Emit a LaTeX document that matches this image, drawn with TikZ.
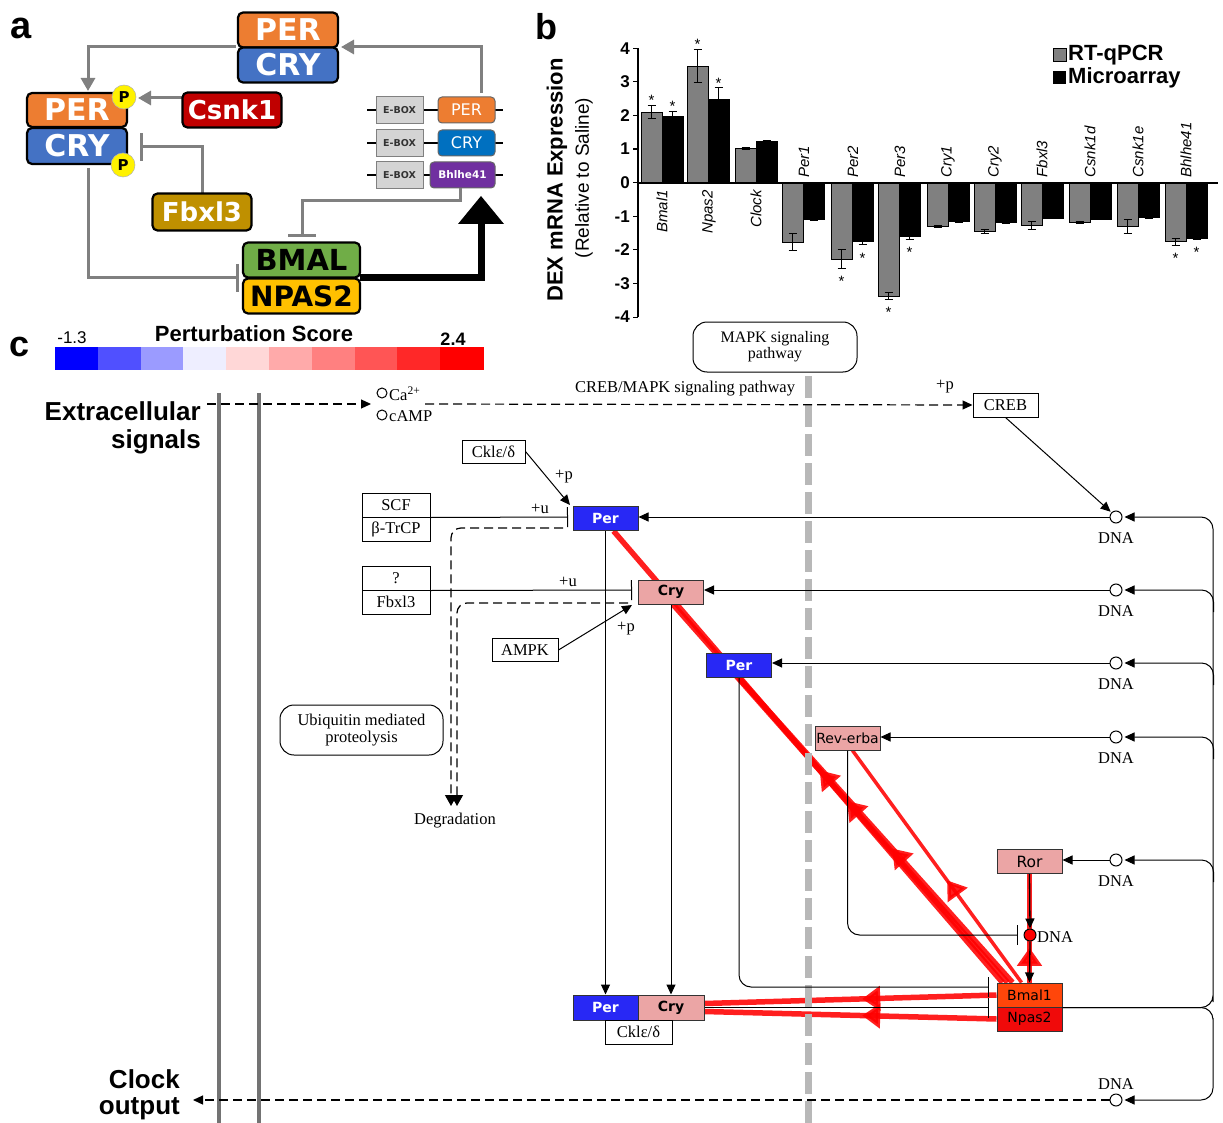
\documentclass[tikz,border=0pt]{standalone}
\usepackage{fontspec}
\setmainfont{Liberation Serif}
\newfontfamily\dvs{DejaVu Sans}
\newfontfamily\ars{Liberation Sans}
\usetikzlibrary{arrows.meta,decorations.markings,calc}
\newcommand\fsz[1]{\fontsize{#1}{#1}\selectfont}
\pgfdeclarelayer{bg}
\pgfsetlayers{bg,main}
\definecolor{perO}{RGB}{237,125,49}
\definecolor{cryB}{RGB}{68,114,196}
\definecolor{csnk}{RGB}{192,0,0}
\definecolor{fbx}{RGB}{191,144,0}
\definecolor{bmalG}{RGB}{112,173,71}
\definecolor{npasY}{RGB}{255,192,0}
\definecolor{cryS}{RGB}{0,112,192}
\definecolor{purp}{RGB}{112,48,160}
\definecolor{barg}{RGB}{128,128,128}
\definecolor{kblue}{RGB}{40,40,245}
\definecolor{kpink}{RGB}{235,165,165}
\definecolor{kbmal}{RGB}{255,70,10}
\definecolor{knpas}{RGB}{240,10,10}
\definecolor{cb1}{RGB}{0,0,255}
\definecolor{cb2}{RGB}{80,80,255}
\definecolor{cb3}{RGB}{155,155,255}
\definecolor{cb4}{RGB}{238,238,255}
\definecolor{cb5}{RGB}{255,215,215}
\definecolor{cb6}{RGB}{255,170,170}
\definecolor{cb7}{RGB}{255,128,128}
\definecolor{cb8}{RGB}{255,85,85}
\definecolor{cb9}{RGB}{255,40,40}
\definecolor{cb10}{RGB}{255,0,0}
\begin{document}
\begin{tikzpicture}[x=1pt,y=-1pt,
  abox/.style={draw=black, line width=2.2pt, rounded corners=5pt, inner sep=0pt, text=white, font=\dvs\bfseries\fsz{30}, minimum width=100pt},
  ebox/.style={draw=black!50, fill=black!17, line width=1pt, minimum width=47pt, minimum height=27pt, inner sep=0pt, font=\dvs\bfseries\fsz{9.5}, text=black!80},
  sbox/.style={draw=black!60, line width=1pt, rounded corners=4pt, minimum height=26pt, inner sep=0pt, text=white, font=\dvs\fsz{16}},
  garr/.style={draw=black!50, line width=3pt, -{Triangle[length=13pt,width=14pt]}},
  gbar/.style={draw=black!50, line width=3pt, -{Bar[width=28pt]}},
  pcirc/.style={circle, fill=yellow, draw=black!30, line width=0.5pt, minimum size=24pt, inner sep=0pt, font=\dvs\bfseries\fsz{15}},
  kbox/.style={draw=black, line width=1pt, fill=white, inner sep=0pt, minimum height=24pt, font=\fsz{16.5}},
  kg/.style={draw=black!80, line width=1pt, inner sep=0pt, minimum height=24pt, minimum width=65pt, font=\dvs\fsz{14}},
  klbl/.style={font=\fsz{16.5}, inner sep=0pt},
  kline/.style={line width=1pt},
  karr/.style={line width=1pt, -{Triangle[length=10pt,width=9pt]}},
  kbar/.style={line width=1pt, -{Bar[width=20pt]}},
  kdash/.style={line width=1.2pt, dash pattern=on 9pt off 5pt},
  dna/.style={circle, draw=black, line width=1pt, minimum size=12pt, inner sep=0pt, fill=white},
  redl/.style={draw=red, line width=5.5pt, opacity=0.88},
  redarr/.style={postaction={decorate}, decoration={markings, mark=at position #1 with {\arrow[red]{Triangle[length=18pt,width=24pt]}}}},
  big/.style={font=\ars\bfseries\fsz{26}, inner sep=0pt}
]
\useasboundingbox (0,0) rectangle (1223,1123);

% ================= panel a =================
\node[font=\ars\bfseries\fsz{38}, inner sep=0pt] (la) at (21,28) {a};
\foreach \yy in {110,143,175} \draw[line width=1.5pt] (367,\yy) -- (503,\yy);
\node[ebox] (e1) at (399.5,110) {E-BOX};
\node[ebox] (e2) at (399.5,143) {E-BOX};
\node[ebox] (e3) at (399.5,175) {E-BOX};
\node[sbox, fill=perO, minimum width=57pt] (gPer) at (466.5,110) {PER};
\node[sbox, fill=cryS, minimum width=57pt] (gCry) at (466.5,143) {CRY};
\node[sbox, fill=purp, minimum width=65pt, font=\dvs\bfseries\fsz{10.5}] (gBh) at (462.5,175) {Bhlhe41};

\draw[garr] (236,47) -| (88,91);
\draw[garr] (481,93) |- (341,47);
\draw[garr] (182,98) -- (138,98);
\draw[gbar] (202,194) |- (140,147);
\draw[gbar] (88,168) |- (239,278);
\draw[gbar] (460,188) -- (460,201) -| (302,237);
\draw[line width=7pt, line join=miter] (360,278) -- (481,278) -- (481,223);
\fill (458,224) -- (504,224) -- (481,196) -- cycle;

\node[abox, fill=perO, minimum height=35pt] (perT) at (288,30) {PER};
\node[abox, fill=cryB, minimum height=35pt] (cryT) at (288,65) {CRY};
\node[abox, fill=perO, minimum height=34pt] (perL) at (77,110) {PER};
\node[abox, fill=cryB, minimum height=36pt] (cryL) at (77,146) {CRY};
\node[pcirc] (p1) at (124,97) {P};
\node[pcirc] (p2) at (123,165) {P};
\node[abox, fill=csnk, minimum width=99pt, minimum height=35pt, font=\dvs\bfseries\fsz{26}] (csnk) at (232,110) {Csnk1};
\node[abox, fill=fbx, minimum width=99pt, minimum height=37pt, font=\dvs\bfseries\fsz{26}] (fbxa) at (202,212) {Fbxl3};
\node[abox, fill=bmalG, minimum width=117pt, minimum height=35pt, text=black, font=\dvs\bfseries\fsz{29}] (bmalA) at (301.5,260) {BMAL};
\node[abox, fill=npasY, minimum width=117pt, minimum height=35pt, text=black, font=\dvs\bfseries\fsz{28}] (npasA) at (301.5,296) {NPAS2};

% ================= panel b =================
\node[font=\ars\bfseries\fsz{36}, inner sep=0pt] (lb) at (546,27) {b};
\node[rotate=90, font=\ars\bfseries\fsz{22}, inner sep=0pt] (yl1) at (557,180) {DEX mRNA Expression};
\node[rotate=90, font=\ars\fsz{19}, inner sep=0pt] (yl2) at (584,178) {(Relative to Saline)};
\begin{scope}[shift={(0,182.7)}, y=33.6pt]
  \foreach \xg/\vg/\eg/\sg/\vb/\eb/\sb in {641/2.1/.2/1/1.97/.15/1, 687/3.47/.5/1/2.47/.35/1, 735/1.02/.03/0/1.22/.03/0, 782/-1.77/.25/0/-1.1/.02/0, 831/-2.28/.28/1/-1.75/.1/1, 878/-3.38/.1/1/-1.6/.08/1, 927/-1.3/.03/0/-1.15/.02/0, 974/-1.45/.05/0/-1.18/.02/0, 1021/-1.28/.12/0/-1.05/.02/0, 1069/-1.18/.04/0/-1.08/.02/0, 1117/-1.3/.22/0/-1.03/.02/0, 1165/-1.76/.1/1/-1.65/.03/1}{
    \pgfmathsetmacro\xb{\xg+21}
    \pgfmathsetmacro\xe{\xg+42}
    \pgfmathsetmacro\cg{\xg+10.5}
    \pgfmathsetmacro\cb{\xg+31.5}
    \filldraw[fill=barg, draw=black, line width=0.8pt] (\xg,0) rectangle (\xb,\vg);
    \filldraw[fill=black, draw=black, line width=0.8pt] (\xb,0) rectangle (\xe,\vb);
    \draw[line width=0.9pt] (\cg,\vg-\eg) -- (\cg,\vg+\eg) (\cg-4,\vg-\eg) -- (\cg+4,\vg-\eg) (\cg-4,\vg+\eg) -- (\cg+4,\vg+\eg);
    \draw[line width=0.9pt] (\cb,\vb-\eb) -- (\cb,\vb+\eb) (\cb-4,\vb-\eb) -- (\cb+4,\vb-\eb) (\cb-4,\vb+\eb) -- (\cb+4,\vb+\eb);
    \pgfmathsetmacro\eeg{\vg>0 ? \vg+\eg : \vg-\eg}
    \pgfmathsetmacro\syg{\vg>0 ? 5 : -13}
    \pgfmathsetmacro\eeb{\vb>0 ? \vb+\eb : \vb-\eb}
    \pgfmathsetmacro\syb{\vb>0 ? 5 : -13}
    \ifnum\sg=1 \node[font=\ars\fsz{15}, inner sep=0pt, yshift=\syg pt] at (\cg,\eeg) {*};\fi
    \ifnum\sb=1 \node[font=\ars\fsz{15}, inner sep=0pt, yshift=\syb pt] at (\cb,\eeb) {*};\fi
  }
  \draw[line width=1.5pt] (638,-4) -- (638,4);
  \foreach \t in {-4,...,4}{
    \draw[line width=1.2pt] (633,\t) -- (638,\t);
    \node[anchor=east, font=\ars\bfseries\fsz{17}, inner sep=0pt] at (630,\t) {\t};
  }
  \draw[line width=2pt] (638,0) -- (1218,0);
  \foreach \x/\n in {662/Bmal1, 709/Npas2, 756/Clock}
    \node[rotate=90, anchor=east, font=\ars\itshape\fsz{15}, inner sep=0pt] at (\x,-0.22) {\n};
  \foreach \x/\n in {804/Per1, 853/Per2, 900/Per3, 948/Cry1, 995/Cry2, 1042/Fbxl3, 1090/Csnk1d, 1138/Csnk1e, 1186/Bhlhe41}
    \node[rotate=90, anchor=west, font=\ars\itshape\fsz{15}, inner sep=0pt] at (\x,0.15) {\n};
\end{scope}
\filldraw[fill=barg, draw=black, line width=1pt] (1053,49) rectangle (1066,62);
\fill (1053,71) rectangle (1066,84);
\node[anchor=west, font=\ars\bfseries\fsz{22}, inner sep=0pt] (lg1) at (1068,55) {RT-qPCR};
\node[anchor=west, font=\ars\bfseries\fsz{22}, inner sep=0pt] (lg2) at (1068,78) {Microarray};

% ================= panel c =================
\node[font=\ars\bfseries\fsz{36}, inner sep=0pt] (lc) at (20,347) {c};
\foreach \i/\c in {0/cb1,1/cb2,2/cb3,3/cb4,4/cb5,5/cb6,6/cb7,7/cb8,8/cb9,9/cb10}
  \fill[\c] (55+\i*42.8,347) rectangle (55+\i*42.8+43.3,370);
\node[font=\ars\fsz{17}, inner sep=0pt] (cmin) at (72,338) {-1.3};
\node[font=\ars\bfseries\fsz{22}, inner sep=0pt] (ctit) at (254,334) {Perturbation Score};
\node[font=\ars\bfseries\fsz{18}, inner sep=0pt] (cmax) at (453,339) {2.4};

\node[big, anchor=east] (ext1) at (201,411) {Extracellular};
\node[big, anchor=east] (ext2) at (201,442) {signals};
\node[big, anchor=east] (clk1) at (180,1079) {Clock};
\node[big, anchor=east] (clk2) at (180,1109) {output};

\draw[black!55, line width=4pt] (219,393) -- (219,1123);
\draw[black!55, line width=4pt] (259,393) -- (259,1123);
\draw[black!28, line width=7pt, dash pattern=on 22pt off 7pt] (808,376) -- (808,1123);

\node[draw, rounded corners=14pt, line width=1pt, minimum width=164pt, minimum height=50pt, align=center, font=\fsz{16}, inner sep=0pt] (mapk) at (775,347) {MAPK signaling\\pathway};
\node[draw, rounded corners=14pt, line width=1pt, minimum width=163pt, minimum height=50pt, align=center, font=\fsz{16.5}, inner sep=0pt] (ubq) at (361.5,730) {Ubiquitin mediated\\proteolysis};

\node[circle, draw, line width=1pt, minimum size=10pt, inner sep=0pt] (ca) at (382,393) {};
\node[circle, draw, line width=1pt, minimum size=10pt, inner sep=0pt] (camp) at (382,415) {};
\node[klbl, anchor=west] (catx) at (389,394) {Ca\textsuperscript{2+}};
\node[klbl, anchor=west] (camptx) at (389,416) {cAMP};
\coordinate (caIn) at (371,404);
\coordinate (extL) at (207,404);
\coordinate (caOut) at (425,404);
\draw[kdash, -{Triangle[length=10pt,width=9pt]}] (extL) -- (caIn);
\node[kbox, minimum width=65pt] (creb) at (1005.5,405) {CREB};
\draw[kdash, -{Triangle[length=10pt,width=9pt]}] (caOut) -- (creb.west);
\node[klbl] at (685,389) {CREB/MAPK signaling pathway};
\node[klbl] at (945,387) {+p};

% DNA circles
\node[dna] (d1) at (1116,517) {};
\node[dna] (d2) at (1116,590) {};
\node[dna] (d3) at (1116,663) {};
\node[dna] (d4) at (1116,737) {};
\node[dna] (d5) at (1116,860) {};
\node[dna] (d7) at (1116,1100) {};
\node[dna, fill=red] (dm) at (1030,935) {};
\foreach \n in {d1,d2,d3,d4,d5} \node[klbl] at ($(\n.center)+(0,21)$) {DNA};
\node[klbl] at (1116,1084) {DNA};
\node[klbl, anchor=west] at (1037,937) {DNA};

% gene product nodes
\node[kg, fill=kblue, text=white, font=\dvs\bfseries\fsz{14}] (per1) at (605.5,518.5) {Per};
\node[kg, fill=kpink, font=\dvs\bfseries\fsz{14}] (cry1) at (671,592) {Cry};
\node[kg, fill=kblue, text=white, font=\dvs\bfseries\fsz{14}] (per2) at (739,665.5) {Per};
\node[kg, fill=kpink] (rev) at (847.5,738) {Rev-erba};
\node[kg, fill=kpink, font=\dvs\fsz{15.5}] (ror) at (1029.5,861.5) {Ror};
\node[kg, fill=kbmal] (bmal) at (1029.5,995) {Bmal1};
\node[kg, fill=knpas] (npas) at (1029.5,1019) {Npas2};
\node[kg, fill=kblue, text=white, font=\dvs\bfseries\fsz{14}, minimum height=25pt] (pcPer) at (605.5,1007.5) {Per};
\node[kg, fill=kpink, font=\dvs\bfseries\fsz{14}, minimum height=25pt, minimum width=66pt] (pcCry) at (671,1007.5) {Cry};
\node[kbox, minimum width=67pt] (pcCk) at (638.5,1032) {Cklε/δ};

% left boxes
\node[kbox, minimum width=68pt] (scf) at (396,505) {SCF};
\node[kbox, minimum width=68pt] (btr) at (396,529) {β-TrCP};
\node[kbox, minimum width=68pt] (qq) at (396,578) {?};
\node[kbox, minimum width=68pt] (fbk) at (396,602) {Fbxl3};
\node[kbox, minimum width=63pt, minimum height=23pt] (ckl) at (493.5,451.5) {Cklε/δ};
\node[kbox, minimum width=66pt, minimum height=23pt] (ampk) at (525,650) {AMPK};
\node[klbl] (degr) at (455,821) {Degradation};

% red perturbation edges (background)
\begin{pgfonlayer}{bg}
  \draw[redl, redarr=0.47] ($(bmal.north west)+(6,0)$) -- ($(per1.south)+(8,0)$);
  \draw[redl, redarr=0.48] ($(bmal.north west)+(11,0)$) -- ($(cry1.south)+(2,0)$);
  \draw[redl, redarr=0.44] ($(bmal.north west)+(16,0)$) -- (per2.south);
  \draw[redl, line width=3.5pt, redarr=0.44] ($(bmal.north west)+(25,0)$) -- ($(rev.south)+(5,0)$);
  \draw[redl, redarr=0.46] (bmal.west) -- ($(pcCry.east)+(0,-4)$);
  \draw[redl, redarr=0.46] (npas.west) -- ($(pcCry.east)+(0,4)$);
  \draw[redl, line width=5pt, redarr=0.32] (bmal.north) -- (ror.south);
\end{pgfonlayer}

% black edges
\draw[karr] (d1.west) -- (per1.east |- d1.west);
\draw[karr] (d2.west) -- (cry1.east |- d2.west);
\draw[karr] (d3.west) -- (per2.east |- d3.west);
\draw[karr] (d4.west) -- (rev.east |- d4.west);
\draw[karr] (d5.west) -- (ror.east |- d5.west);
\coordinate (brTop) at (1213,990);
\coordinate (brBot) at (1213,1030);
\draw[karr, rounded corners=12pt] (bmal.south east) -| (brTop) |- ($(d1.east)+(2,0)$);
\draw[karr, rounded corners=12pt] (bmal.south east) -| (brBot) |- ($(d7.east)+(2,0)$);
\foreach \n in {d2,d3,d4,d5}
  \draw[karr, rounded corners=12pt] ($(\n.east)+(91,22)$) |- ($(\n.east)+(2,0)$);
\draw[kdash, -{Triangle[length=10pt,width=9pt]}] (d7.west) -- (193,1100);
\draw[karr, shorten >=1pt] (creb.south) -- (d1.north west);

\draw[karr] (per1.south) -- (pcPer.north);
\draw[karr] (cry1.south) -- (pcCry.north);
\draw[kbar, rounded corners=12pt] (per2.south) |- (989,987);
\draw[kbar] (pcCry.east) -- (989,1007.5);
\draw[kbar, rounded corners=12pt] (rev.south) |- ($(dm.west)+(-6,0)$);
\draw[karr, line width=1.3pt] (ror.south) -- (dm.north);
\draw[karr, line width=1.3pt] (dm.south) -- (bmal.north);

\draw[kbar] (scf.south east) -- (568,517);
\draw[kbar] (qq.south east) -- (632,590);
\node[klbl] at (540,509) {+u};
\node[klbl] at (568,582) {+u};
\draw[karr] (ckl.east) -- (570,505);
\node[klbl] at (564,477) {+p};
\draw[karr] (ampk.east) -- (632,605);
\node[klbl] at (626,629) {+p};
\draw[kdash, rounded corners=10pt, -{Triangle[length=11pt,width=12pt]}] (563,528) -| (451,806);
\draw[kdash, rounded corners=10pt, -{Triangle[length=11pt,width=12pt]}] (628,603) -| (457,806);
\end{tikzpicture}
\end{document}
